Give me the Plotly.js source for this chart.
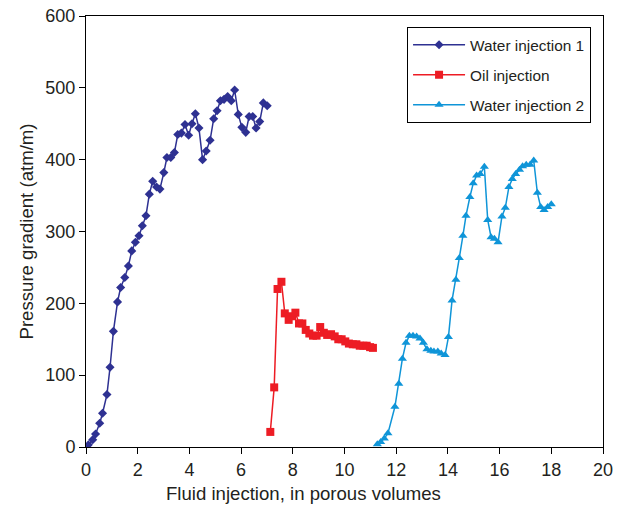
<!DOCTYPE html>
<html>
<head>
<meta charset="utf-8">
<script src="https://cdn.plot.ly/plotly-3.0.1.min.js"></script>
<style>html,body{margin:0;padding:0;background:#fff}#chart{width:634px;height:507px}</style>
</head>
<body>
<div id="chart"></div>
<script>
const w1X = [0.09,0.26,0.37,0.53,0.64,0.81,0.93,1.06,1.22,1.34,1.50,1.64,1.77,1.91,2.05,2.18,2.32,2.45,2.58,2.73,2.86,3.01,3.13,3.28,3.42,3.55,3.69,3.83,3.97,4.10,4.23,4.37,4.51,4.65,4.80,4.94,5.07,5.20,5.34,5.48,5.62,5.75,5.89,6.03,6.18,6.31,6.45,6.58,6.72,6.86,7.01];
const w1Y = [3,10,18,33,47,73,111,161,202,222,236,252,273,285,294,308,322,352,370,362,359,382,403,403,410,435,437,449,434,450,464,444,400,412,427,457,468,482,484,488,482,497,463,445,438,460,460,444,453,479,475];

const oilX = [7.13,7.28,7.41,7.56,7.69,7.84,7.97,8.10,8.24,8.37,8.50,8.64,8.78,8.92,9.06,9.20,9.33,9.48,9.62,9.76,9.89,10.03,10.17,10.32,10.46,10.59,10.73,10.86,10.99,11.10];
const oilY = [21,83,220,230,186,177,182,187,172,172,163,158,155,155,167,159,156,157,154,150,150,147,144,143,143,141,141,141,139,138];

const w2X = [11.27,11.40,11.54,11.68,11.95,12.10,12.24,12.38,12.51,12.65,12.79,12.92,13.05,13.19,13.34,13.46,13.61,13.74,13.89,14.02,14.16,14.31,14.44,14.58,14.70,14.85,14.98,15.11,15.25,15.41,15.54,15.67,15.80,15.94,16.09,16.22,16.36,16.49,16.62,16.77,16.89,17.03,17.18,17.32,17.46,17.59,17.72,17.86,18.00];
const w2Y = [4,7,12,19,56,88,123,145,155,155,154,151,145,136,134,133,133,130,128,153,204,233,263,294,322,348,367,378,380,390,316,292,290,285,321,333,362,373,380,386,391,393,393,399,354,334,330,334,338];

const names = ["Water injection 1", "Oil injection", "Water injection 2"];
const xTicks = [0,2,4,6,8,10,12,14,16,18,20];
const yTicks = [0,100,200,300,400,500,600];
const xTitle = "Fluid injection, in porous volumes";
const yTitle = "Pressure gradient (atm/m)";

const font = "Liberation Sans, Arial, Helvetica, sans-serif";
const txt = "#231F20";

const traces = [
  {x: w1X, y: w1Y, name: names[0], legendgroup: "a", type: "scatter", mode: "lines+markers",
   line: {color: "#2E3192", width: 1.5}, marker: {symbol: "diamond", size: 7, color: "#2E3192"}},
  {x: oilX, y: oilY, name: names[1], legendgroup: "b", type: "scatter", mode: "lines+markers",
   line: {color: "#ED1C24", width: 1.5}, marker: {symbol: "square", size: 8, color: "#ED1C24"}},
  {x: w2X, y: w2Y, name: names[2], legendgroup: "c", type: "scatter", mode: "lines+markers",
   line: {color: "#0F95D8", width: 1.5}, marker: {symbol: "triangle-up", size: 8, color: "#0F95D8"}}
];

const layout = {
  width: 634, height: 507,
  margin: {l: 86, r: 31, t: 16, b: 60},
  paper_bgcolor: "#fff", plot_bgcolor: "#fff",
  font: {family: font, color: txt, size: 18},
  showlegend: true,
  legend: {x: 0.621, y: 0.974, xanchor: "left", yanchor: "top",
    bordercolor: "#000", borderwidth: 1, bgcolor: "#fff",
    font: {family: font, size: 15.4, color: txt},
    itemwidth: 52,
    traceorder: "grouped", tracegroupgap: 7},
  xaxis: {range: [0, 20], tickvals: xTicks, ticktext: xTicks.map(String),
    showgrid: false, zeroline: false, showline: true, linecolor: "#000", linewidth: 1, mirror: true,
    ticks: "outside", ticklen: 6, tickcolor: "#000",
    tickfont: {family: font, size: 18, color: txt}},
  yaxis: {range: [0, 600], tickvals: yTicks, ticktext: yTicks.map(String),
    showgrid: false, zeroline: false, showline: true, linecolor: "#000", linewidth: 1, mirror: true,
    ticks: "outside", ticklen: 6, tickcolor: "#000",
    tickfont: {family: font, size: 18, color: txt},
    title: {text: yTitle, font: {family: font, size: 18.6, color: txt}, standoff: 6}},
  annotations: [
    {text: xTitle, xref: "paper", yref: "paper", x: 0.42, y: -0.108, xanchor: "center", yanchor: "middle",
     showarrow: false, font: {family: font, size: 18.6, color: txt}}
  ]
};

Plotly.newPlot("chart", traces, layout, {displayModeBar: false, staticPlot: true});
</script>
</body>
</html>
